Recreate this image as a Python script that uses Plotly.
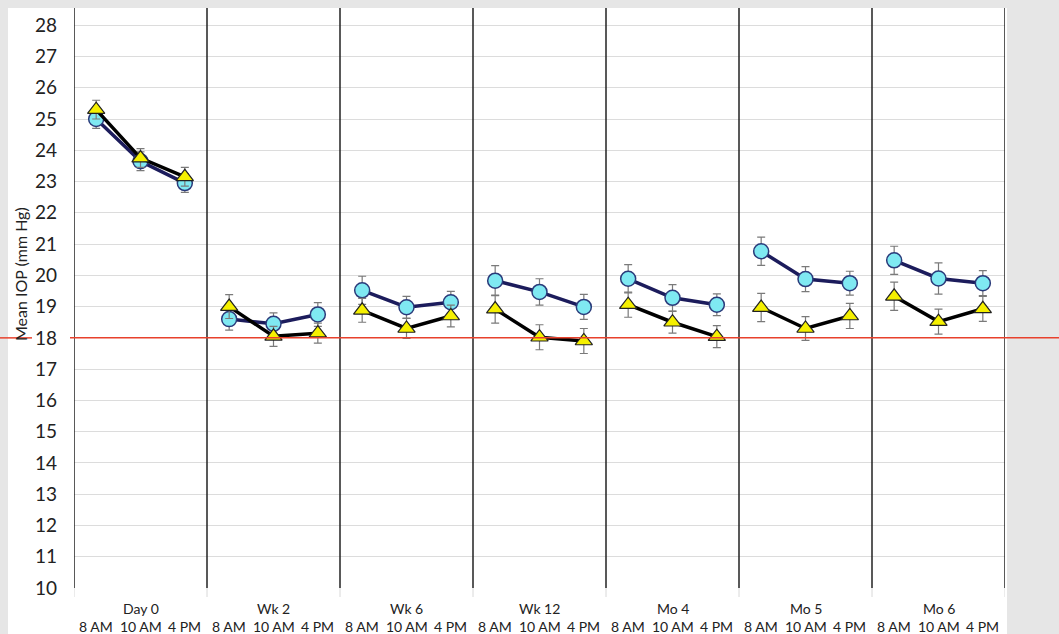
import plotly.graph_objects as go

groups = ["Day 0", "Wk 2", "Wk 6", "Wk 12", "Mo 4", "Mo 5", "Mo 6"]
times = ["8 AM", "10 AM", "4 PM"]

circle_vals = [
    [25.0, 23.65, 22.95],
    [18.6, 18.45, 18.75],
    [19.52, 18.98, 19.14],
    [19.83, 19.47, 18.99],
    [19.89, 19.28, 19.06],
    [20.77, 19.88, 19.75],
    [20.48, 19.9, 19.75],
]
circle_err = [
    [0.3, 0.3, 0.3],
    [0.35, 0.35, 0.38],
    [0.45, 0.35, 0.35],
    [0.48, 0.42, 0.4],
    [0.45, 0.42, 0.35],
    [0.45, 0.4, 0.38],
    [0.45, 0.5, 0.4],
]
tri_vals = [
    [25.3, 23.75, 23.15],
    [19.0, 18.05, 18.15],
    [18.88, 18.3, 18.7],
    [18.92, 18.02, 17.9],
    [19.06, 18.5, 18.04],
    [18.97, 18.3, 18.7],
    [19.33, 18.52, 18.93],
]
tri_err = [
    [0.3, 0.3, 0.3],
    [0.38, 0.32, 0.32],
    [0.38, 0.32, 0.35],
    [0.45, 0.4, 0.4],
    [0.4, 0.35, 0.35],
    [0.45, 0.38, 0.4],
    [0.45, 0.4, 0.4],
]
threshold = 18
y_title = "Mean IOP (mm Hg)"


def flatten(rows):
    xs, ys = [], []
    for gi, row in enumerate(rows):
        for ti, v in enumerate(row):
            xs.append(gi * len(times) + ti)
            ys.append(v)
        xs.append(None)
        ys.append(None)
    return xs, ys


cx, cy = flatten(circle_vals)
_, ce = flatten(circle_err)
tx, ty = flatten(tri_vals)
_, te = flatten(tri_err)

fig = go.Figure()
fig.add_trace(go.Scatter(
    x=cx, y=cy, mode="lines+markers",
    line=dict(color="#1c1c5c", width=3.5),
    marker=dict(symbol="circle", size=15, color="#7fe9f2",
                line=dict(color="#2a3a7a", width=1.5)),
    error_y=dict(type="data", array=ce, visible=True, color="#7a7a7a",
                 thickness=1.2, width=4),
    connectgaps=False, showlegend=False, hoverinfo="skip",
))
fig.add_trace(go.Scatter(
    x=tx, y=ty, mode="lines+markers",
    line=dict(color="#000000", width=3.5),
    marker=dict(symbol="triangle-up", size=15, color="#f5f000",
                line=dict(color="#222222", width=1.2)),
    error_y=dict(type="data", array=te, visible=True, color="#7a7a7a",
                 thickness=1.2, width=4),
    connectgaps=False, showlegend=False, hoverinfo="skip",
))

n = len(groups) * len(times)
L, R, T, B = 74, 54, 8, 46
W, H = 1059, 634
pw, ph = W - L - R, H - T - B

def px_to_xpaper(px):
    return (px - L) / pw

def px_to_ypaper(py):
    return (H - B - py) / ph

shapes = []
# white panel
shapes.append(dict(type="rect", xref="paper", yref="paper",
                   x0=px_to_xpaper(8), x1=px_to_xpaper(1007),
                   y0=px_to_ypaper(640), y1=1.0,
                   fillcolor="white", line=dict(width=0), layer="below"))
# group dividers
for gi in range(len(groups) + 1):
    xv = gi * len(times) - 0.5
    shapes.append(dict(type="line", xref="x", yref="paper", x0=xv, x1=xv,
                       y0=0, y1=1, line=dict(color="#222222", width=1.5)))
    shapes.append(dict(type="line", xref="x", yref="paper", x0=xv, x1=xv,
                       y0=px_to_ypaper(597), y1=0,
                       line=dict(color="#d8d8d8", width=1)))
# red threshold line
shapes.append(dict(type="line", xref="paper", yref="y",
                   x0=px_to_xpaper(0), x1=px_to_xpaper(32), y0=threshold, y1=threshold,
                   line=dict(color="#e8412c", width=1.5)))
shapes.append(dict(type="line", xref="paper", yref="y",
                   x0=px_to_xpaper(70), x1=px_to_xpaper(W), y0=threshold, y1=threshold,
                   line=dict(color="#e8412c", width=1.5)))

annotations = []
for gi, g in enumerate(groups):
    annotations.append(dict(x=gi * len(times) + 1, y=px_to_ypaper(608), xref="x", yref="paper",
                            text=g, showarrow=False, yanchor="middle",
                            font=dict(family="Lato", size=14, color="#222222")))
    for ti, t in enumerate(times):
        annotations.append(dict(x=gi * len(times) + ti, y=px_to_ypaper(626), xref="x", yref="paper",
                                text=t, showarrow=False, yanchor="middle",
                                font=dict(family="Lato", size=14, color="#222222")))
annotations.append(dict(x=px_to_xpaper(20), y=px_to_ypaper(274), xref="paper", yref="paper",
                        text=y_title, textangle=-90, showarrow=False,
                        xanchor="center", yanchor="middle",
                        font=dict(family="Lato", size=16, color="#222222")))

fig.update_layout(
    width=W, height=H,
    margin=dict(l=L, r=R, t=T, b=B),
    paper_bgcolor="#e6e6e6",
    plot_bgcolor="white",
    shapes=shapes,
    annotations=annotations,
    hovermode=False,
    xaxis=dict(range=[-0.5, n - 0.5], showticklabels=False, showgrid=False,
               zeroline=False, showline=False, ticks=""),
    yaxis=dict(range=[10, 28.55], tickvals=list(range(10, 29)),
               showgrid=True, gridcolor="#dcdcdc", gridwidth=1.2,
               zeroline=False, showline=False, ticks="",
               ticklabelstandoff=16,
               tickfont=dict(family="Lato", size=19, color="#222222")),
    font=dict(family="Lato"),
)

fig.write_html("out.html", config={"displayModeBar": False},
               post_script="document.body.style.margin='0';document.body.style.background='#e6e6e6';")
